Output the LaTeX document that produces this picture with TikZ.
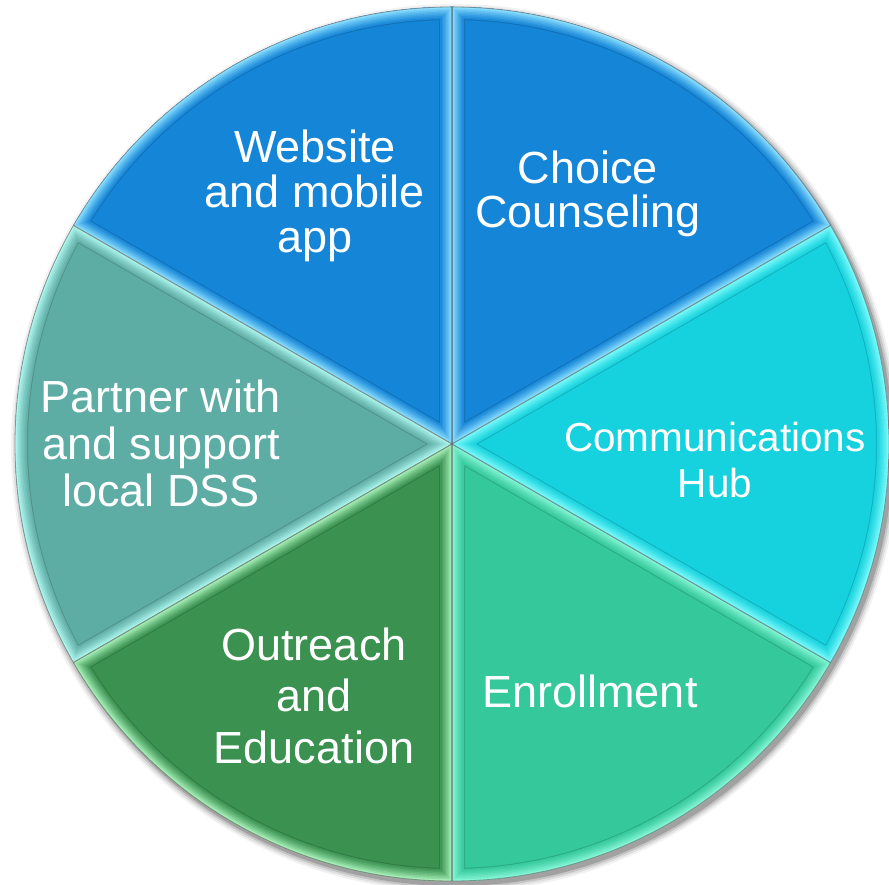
\documentclass[tikz,border=0pt]{standalone}
\usepackage{fontspec}
\setmainfont{Liberation Sans}
\begin{document}
\begin{tikzpicture}[x=1pt,y=1pt]
\useasboundingbox (0,0) rectangle (889,884);
\def\R{437}
\coordinate (C) at (452,440);
% slice colours: base fill and bevel highlight
\definecolor{webBase}{HTML}{1585D7}
\definecolor{webLight}{HTML}{8ADFFF}
\definecolor{hubBase}{HTML}{16D2DE}
\definecolor{hubLight}{HTML}{7AFAFA}
\definecolor{enrBase}{HTML}{34C89B}
\definecolor{enrLight}{HTML}{86F6D6}
\definecolor{outBase}{HTML}{3A9150}
\definecolor{outLight}{HTML}{A6F0B8}
\definecolor{parBase}{HTML}{5EADA5}
\definecolor{parLight}{HTML}{AEF6EE}
\tikzset{
  piecap/.style={text=white, align=center, inner sep=0pt,
    font=\fontsize{45}{45}\selectfont},
  seam/.style={line width=1.2pt, black!60, opacity=0.6}
}
% one bevelled sector: start angle, end angle, base colour, highlight colour
\newcommand\pieslice[4]{%
  \begin{scope}
    \clip (C) -- ++(#1:\R) arc[start angle=#1, end angle=#2, radius=\R] -- cycle;
    \fill[#3] (C) circle[radius=\R];
    \draw[line width=26pt, #3!85!black, line join=miter]
      (C) -- ++(#1:\R) arc[start angle=#1, end angle=#2, radius=\R] -- cycle;
    \foreach \w/\p in {24/6,21/16,18/28,15/40,12/54,9/68,6/82,3/100}
      \draw[line width=\w pt, #4!\p!#3, line join=miter]
        (C) -- ++(#1:\R) arc[start angle=#1, end angle=#2, radius=\R] -- cycle;
  \end{scope}}
% soft drop shadow
\foreach \r/\o in {7/0.05,5/0.08,3/0.12,1/0.18}
  \fill[black, opacity=\o] ([shift={(3,-4)}]C) circle[radius=\R+\r];
% the six sectors
\pieslice{30}{90}{webBase}{webLight}
\pieslice{90}{150}{webBase}{webLight}
\pieslice{150}{210}{parBase}{parLight}
\pieslice{210}{270}{outBase}{outLight}
\pieslice{270}{330}{enrBase}{enrLight}
\pieslice{-30}{30}{hubBase}{hubLight}
% seams and rim
\foreach \a in {30,90,150,210,270,330}
  \draw[seam] (C) -- ++(\a:\R);
\draw[line width=0.8pt, black!60, opacity=0.6] (C) circle[radius=\R];
% captions
\node[piecap] (website) at (315,688) {Website\\and mobile\\app};
\node[piecap, font=\fontsize{45}{44}\selectfont] (choice) at (588,690.5) {Choice\\Counseling};
\node[piecap, font=\fontsize{40.5}{46}\selectfont] (commhub) at (715,423.5) {Communications\\Hub};
\node[piecap, font=\fontsize{45}{47}\selectfont] (partner) at (161,441) {Partner with\\and support\\local DSS};
\node[piecap, font=\fontsize{45}{51.5}\selectfont] (outreach) at (314,188.5) {Outreach\\and\\Education};
\node[piecap] (enroll) at (590,193) {Enrollment};
\end{tikzpicture}
\end{document}
